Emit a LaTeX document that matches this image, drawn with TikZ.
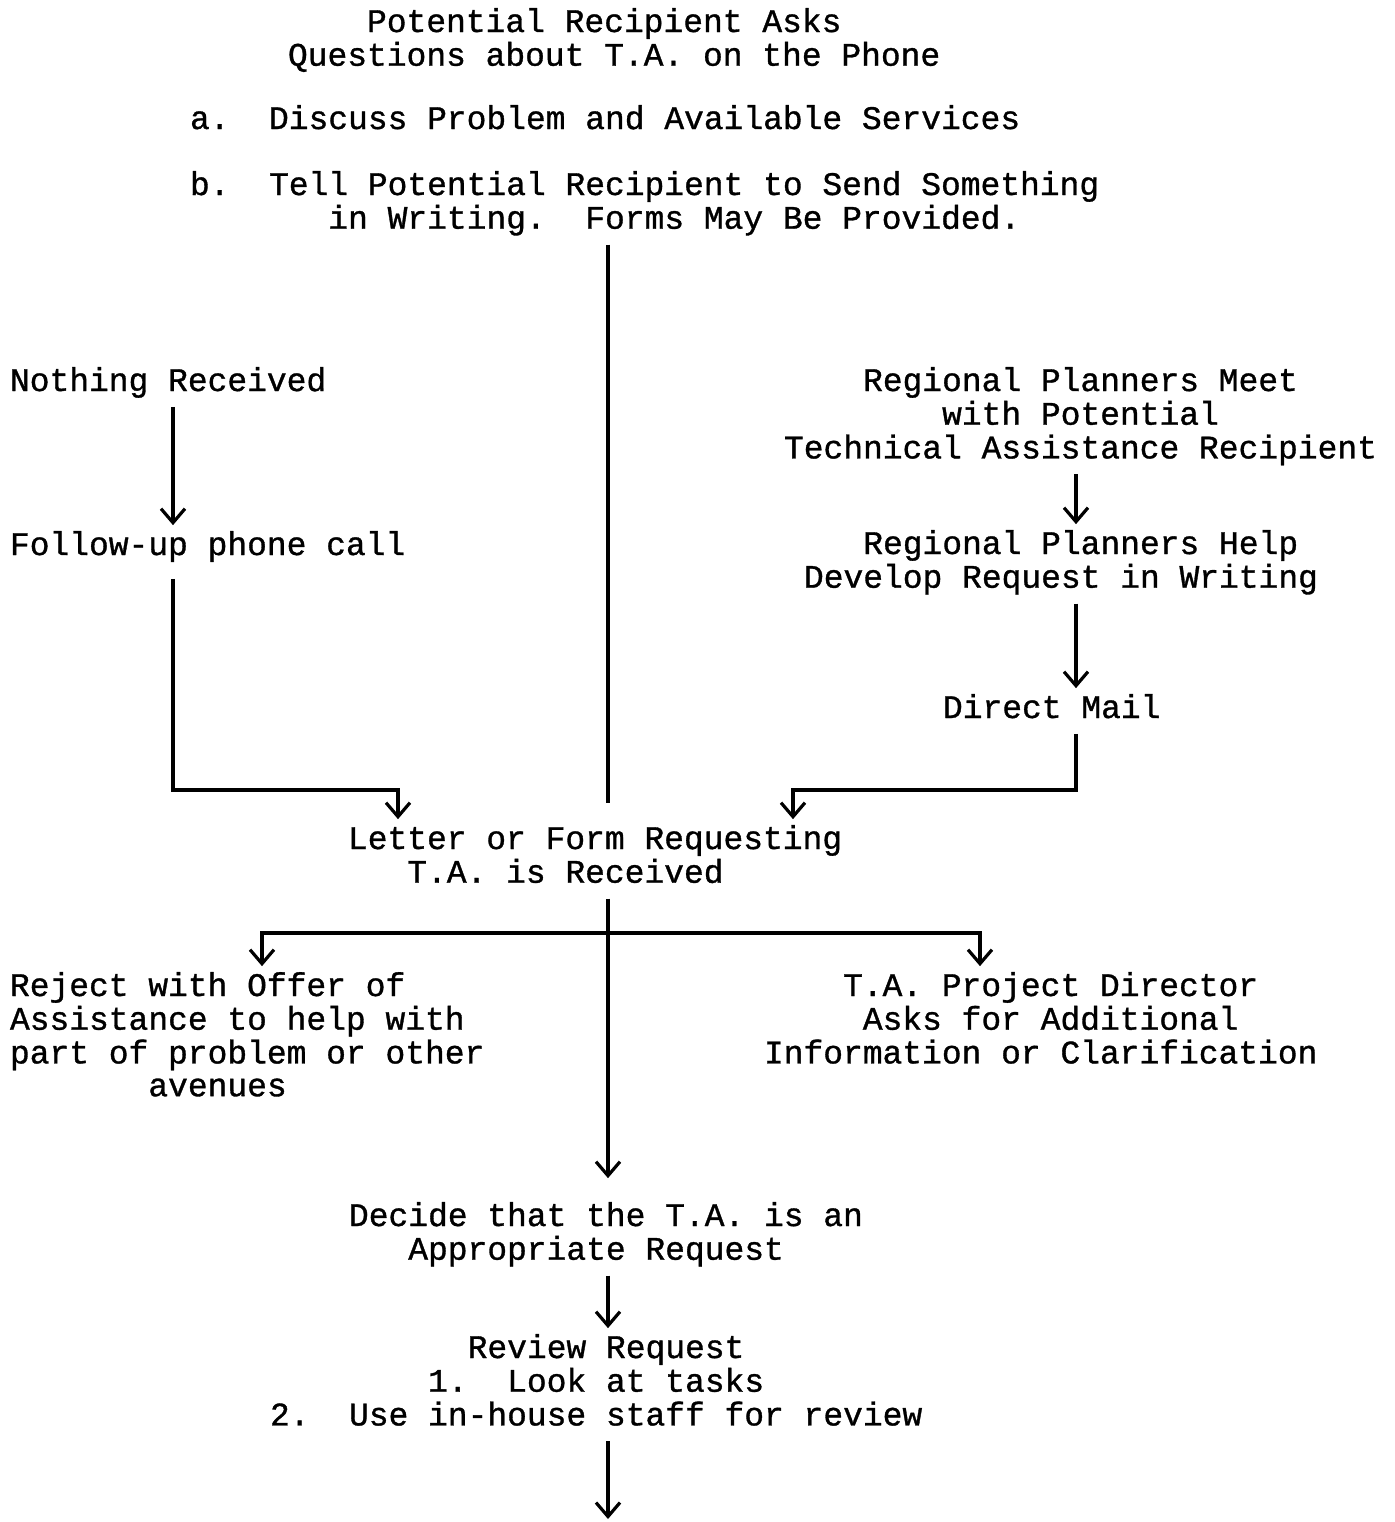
\documentclass[tikz,border=0pt]{standalone}
\usepackage{fontspec}
\setmonofont[FakeBold=1]{Liberation Mono}
\usetikzlibrary{arrows.meta}
\newcommand{\zeilen}[1]{\begin{tabular}[t]{@{}l@{}}#1\end{tabular}}
\tikzset{
  txt/.style={anchor=base west, inner sep=0pt, outer xsep=0pt, outer ysep=3pt,
    font=\ttfamily\frenchspacing\fontsize{16.47}{16.4}\selectfont},
  linie/.style={line width=1.6pt},
  pfeil/.style={linie, -{Straight Barb[length=7pt,width=12pt]}},
}
\begin{document}
\begin{tikzpicture}[x=0.5pt, y=-0.5pt]
  % Rahmen
  \useasboundingbox (0,0) rectangle (1395,1522);
  % Spalten und Knickpunkte
  \coordinate (lcol) at (173,0);
  \coordinate (ccol) at (608,0);
  \coordinate (rcol) at (1076,0);
  \coordinate (jl) at (398,790);
  \coordinate (jr) at (793,790);
  \coordinate (sl) at (262,933);
  \coordinate (sr) at (980,933);
  \coordinate (out) at (608,1519);
  % Texte
  \node[txt] (ask) at (288,32) {\zeilen{\hphantom{xxxx}Potential Recipient Asks\\Questions about T.A. on the Phone}};
  \node[txt] (disc) at (190,129) {\zeilen{a.~~Discuss Problem and Available Services}};
  \node[txt] (tell) at (190,195) {\zeilen{b.~~Tell Potential Recipient to Send Something\\\hphantom{xxxxxxx}in Writing.~~Forms May Be Provided.}};
  \node[txt] (nothing) at (10,391) {\zeilen{Nothing Received}};
  \node[txt] (follow) at (10,555) {\zeilen{Follow-up phone call}};
  \node[txt] (meet) at (784,391) {\zeilen{\hphantom{xxxx}Regional Planners Meet\\\hphantom{xxxxxxxx}with Potential\\Technical Assistance Recipient}};
  \node[txt] (help) at (804,554) {\zeilen{\hphantom{xxx}Regional Planners Help\\Develop Request in Writing}};
  \node[txt] (mail) at (943,718) {\zeilen{Direct Mail}};
  \node[txt] (letter) at (348,849) {\zeilen{Letter or Form Requesting\\\hphantom{xxx}T.A. is Received}};
  \node[txt] (reject) at (10,996) {\zeilen{Reject with Offer of\\Assistance to help with\\part of problem or other\\\hphantom{xxxxxxx}avenues}};
  \node[txt] (clarify) at (764,996) {\zeilen{\hphantom{xxxx}T.A. Project Director\\\hphantom{xxxxx}Asks for Additional\\Information or Clarification}};
  \node[txt] (decide) at (349,1226) {\zeilen{Decide that the T.A. is an\\\hphantom{xxx}Appropriate Request}};
  \node[txt] (review) at (270,1358) {\zeilen{\hphantom{xxxxxxxxxx}Review Request\\\hphantom{xxxxxxxx}1.~~Look at tasks\\2.~~Use in-house staff for review}};
  % Linien, Pfeile
  \draw[linie] (tell.south -| ccol) -- ([yshift=8pt]letter.north -| ccol);
  \draw[pfeil] (nothing.south -| lcol) -- (follow.north -| lcol);
  \draw[pfeil] ([yshift=-4pt]follow.south -| lcol) |- (jl) -- (letter.north -| jl);
  \draw[pfeil] (meet.south -| rcol) -- (help.north -| rcol);
  \draw[pfeil] (help.south -| rcol) -- (mail.north -| rcol);
  \draw[pfeil] (mail.south -| rcol) |- (jr) -- (letter.north -| jr);
  \draw[pfeil] (letter.south -| ccol) -- ([yshift=9pt]decide.north -| ccol);
  \draw[linie, {Straight Barb[length=7pt,width=12pt]}-{Straight Barb[length=7pt,width=12pt]}]
    (reject.north -| sl) -- (sl) -- (sr) -- (clarify.north -| sr);
  \draw[pfeil] (decide.south -| ccol) -- (review.north -| ccol);
  \draw[pfeil] (review.south -| ccol) -- (out);
\end{tikzpicture}
\end{document}
